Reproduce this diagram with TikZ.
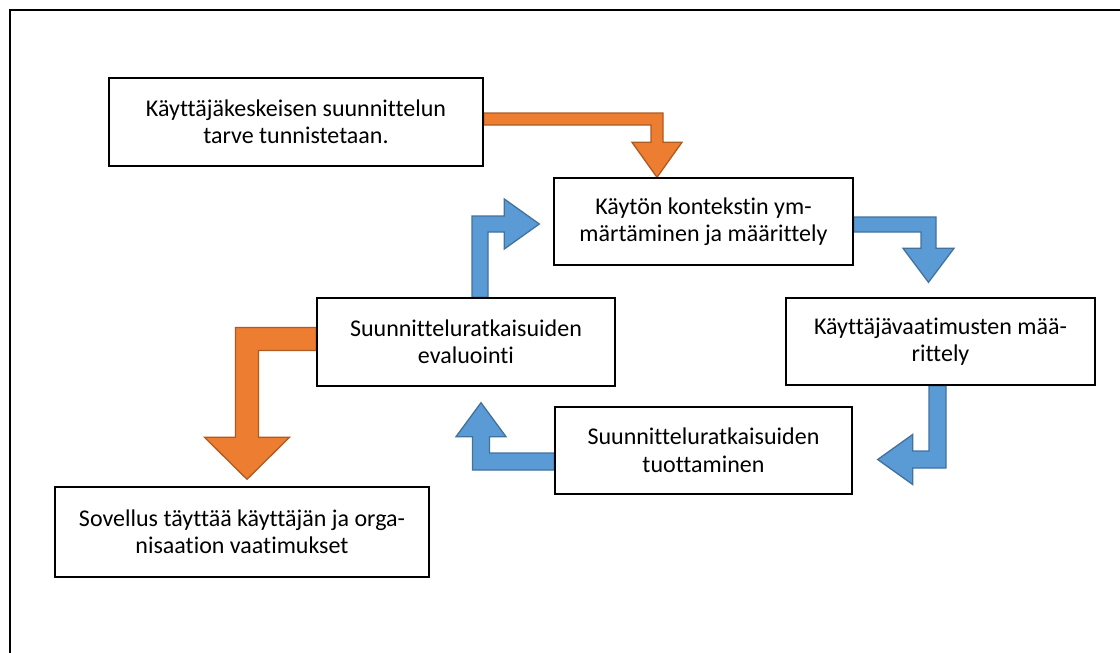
\documentclass[tikz,border=0pt]{standalone}
\usepackage{fontspec}
\setmainfont{Carlito}[Ligatures={NoCommon}]
\usetikzlibrary{calc,backgrounds}

\definecolor{orfill}{HTML}{ED7D31}
\definecolor{oredge}{HTML}{AE5A21}
\definecolor{blfill}{HTML}{5B9BD5}
\definecolor{bledge}{HTML}{41719C}

\tikzset{
  box/.style={draw, line width=1.4pt, fill=white, rectangle, inner sep=0pt,
    align=center, font=\fontsize{24}{27.5}\selectfont},
  orangearrow/.style={fill=orfill, draw=oredge, line width=1.3pt, line join=miter},
  bluearrow/.style={fill=blfill, draw=bledge, line width=1.3pt, line join=miter}
}

% bent block arrow: style, half shaft, half head, head length, from, tip, corner (-| or |-)
\newcommand{\bentarrow}[7]{%
  \coordinate (s) at (#5);
  \coordinate (t) at (#6);
  \coordinate (k) at (s #7 t);
  \coordinate (b) at ($(t)!#4pt!(k)$);
  \filldraw[#1] ($(s)!#2pt!90:(k)$)
    -- ($(k)!#2pt!-90:(s) + (k)!#2pt!90:(t) - (k)$)
    -- ($(b)!#2pt!90:(t)$) -- ($(b)!#3pt!90:(t)$) -- (t)
    -- ($(b)!#3pt!-90:(t)$) -- ($(b)!#2pt!-90:(t)$)
    -- ($(k)!#2pt!90:(s) + (k)!#2pt!-90:(t) - (k)$)
    -- ($(s)!#2pt!-90:(k)$) -- cycle;
}

\begin{document}
\begin{tikzpicture}[x=1pt, y=-1pt]
\useasboundingbox (0,0) rectangle (1120,653);
\draw[line width=1.7pt] (9.8,653) -- (9.8,9.8) -- (1120,9.8);

\node[box, minimum width=374, minimum height=88] (tarve) at (296,122)
  {Käyttäjäkeskeisen suunnittelun\\tarve tunnistetaan.};
\node[box, minimum width=299, minimum height=87] (konteksti) at (703.5,221.5)
  {Käytön kontekstin ym-\\märtäminen ja määrittely};
\node[box, minimum width=298, minimum height=88] (evaluointi) at (466,342)
  {Suunnitteluratkaisuiden\\evaluointi};
\node[box, minimum width=309, minimum height=87] (vaatimukset) at (940.5,341.5)
  {Käyttäjävaatimusten mää-\\rittely};
\node[box, minimum width=297, minimum height=87] (tuottaminen) at (703.5,450.5)
  {Suunnitteluratkaisuiden\\tuottaminen};
\node[box, minimum width=374, minimum height=90] (sovellus) at (242,532)
  {Sovellus täyttää käyttäjän ja orga-\\nisaation vaatimukset};

\begin{scope}[on background layer]
% orange: start and end
\bentarrow{orangearrow}{6}{25}{35}{$(tarve.east)+(0,-3)$}{$(konteksti.north)+(-46.5,0)$}{-|}
\bentarrow{orangearrow}{11.5}{42.5}{42}{$(evaluointi.west)+(0,-3)$}{$(sovellus.north)+(5,-7)$}{-|}
% blue: the cycle
\bentarrow{bluearrow}{7.5}{25.5}{34}{$(konteksti.east)+(0,3)$}{$(vaatimukset.north)+(-12,-15)$}{-|}
\bentarrow{bluearrow}{8.5}{25}{35}{$(vaatimukset.south)+(-3,0)$}{$(tuottaminen.east)+(25,9)$}{|-}
\bentarrow{bluearrow}{8.5}{25}{34}{$(tuottaminen.west)+(0,11)$}{$(evaluointi.south)+(15,16)$}{-|}
\bentarrow{bluearrow}{8}{25}{35}{$(evaluointi.north)+(14,0)$}{$(konteksti.west)+(-14,2.5)$}{|-}
\end{scope}
\end{tikzpicture}
\end{document}
